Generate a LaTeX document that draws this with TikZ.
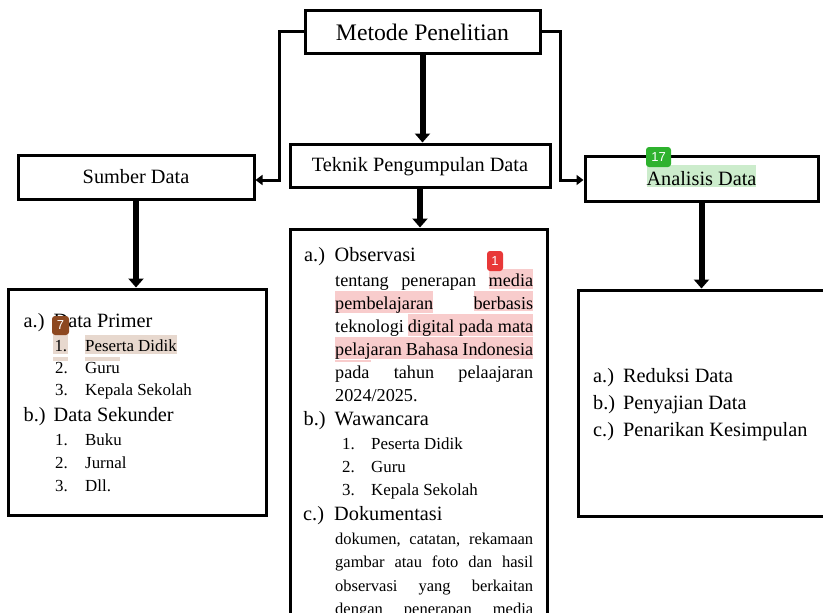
\documentclass[tikz,border=0pt]{standalone}
\usepackage{fontspec}
\setmainfont{Liberation Serif}
\newfontfamily\lencanafont{Liberation Sans}
\usepackage{xcolor}
\usepackage{tikz}
\usetikzlibrary{arrows.meta}
\usetikzlibrary{positioning}

\definecolor{krem}{RGB}{231,216,206}
\definecolor{merahmuda}{RGB}{248,204,204}
\definecolor{hijaumuda}{RGB}{204,236,204}
\definecolor{merahlencana}{RGB}{232,56,56}
\definecolor{coklatlencana}{RGB}{141,72,32}
\definecolor{hijaulencana}{RGB}{46,178,46}

\newcommand{\stabilo}[2]{{\setlength{\fboxsep}{0pt}\colorbox{#1}{\rule[-0.12em]{0pt}{1.1em}#2}}}

\begin{document}
\begin{tikzpicture}[x=1pt, y=-1pt]
\tikzstyle{kotak}=[
    draw,
    line width=3pt,
    inner sep=0pt,
    text depth=0pt,
    font=\fontsize{20.3}{24}\selectfont
]
\tikzstyle{judul}=[anchor=base west, inner sep=0pt, font=\fontsize{20.3}{24}\selectfont]
\tikzstyle{butir}=[anchor=base west, inner sep=0pt, font=\fontsize{16.9}{20}\selectfont]
\tikzstyle{paragrafobs}=[anchor=base west, inner sep=0pt, font=\fontsize{18.2}{21}\selectfont]
\tikzstyle{paragrafdok}=[anchor=base west, inner sep=0pt, font=\fontsize{16.5}{20}\selectfont]
\tikzstyle{panahtebal}=[line width=6pt, -{Triangle[width=15pt,length=9pt]}]
\tikzstyle{panahtipis}=[line width=3pt, -{Triangle[width=10pt,length=7pt]}]
\tikzstyle{lencana}=[
    rounded corners=3pt,
    inner sep=0pt,
    text=white,
    font=\lencanafont\fontsize{13}{13}\selectfont
]

\useasboundingbox (0,0) rectangle (823,613);
\clip (0,0) rectangle (823,613);

% Kotak utama
\node[kotak, minimum width=235pt, minimum height=43pt, text height=17pt,
      font=\fontsize{23.7}{28}\selectfont] (metode) at (422.5,31.5) {Metode Penelitian};
\node[kotak, minimum width=260pt, minimum height=43pt, text height=12.5pt] (teknik) at (420,165.5) {Teknik Pengumpulan Data};
\node[kotak, minimum width=236pt, minimum height=44pt, text height=12.6pt] (sumber) at (136,177) {Sumber Data};
\node[kotak, minimum width=233pt, minimum height=45pt, text height=13pt] (analisis) at (701.5,178.5) {\stabilo{hijaumuda}{Analisis Data}};

% Kotak isi
\node[kotak, minimum width=258pt, minimum height=226pt] (kotakkiri) at (137,402) {};
\node[kotak, minimum width=257pt, minimum height=431pt] (kotaktengah) at (418.5,444.5) {};
\node[kotak, minimum width=282pt, minimum height=226pt] (kotakkanan) at (719,403) {};

% Panah
\coordinate (belokkiri) at (279,0);
\coordinate (belokkanan) at (560,0);
\draw[panahtebal] (metode.south) -- (metode.south |- teknik.north);
\draw[panahtipis] (metode.west) -- (metode.west -| belokkiri) |- ([yshift=-3pt]sumber.east);
\draw[panahtipis] (metode.east) -- (metode.east -| belokkanan) |- ([yshift=-1.5pt]analisis.west);
\draw[panahtebal] (sumber.south) -- (sumber.south |- kotakkiri.north);
\draw[panahtebal] (teknik.south) -- (teknik.south |- kotaktengah.north);
\draw[panahtebal] (analisis.south) -- (analisis.south |- kotakkanan.north);

% Sumber data
\fill[krem] (53,357) rectangle (68,361);
\fill[krem] (85,357) rectangle (120,361);
\node[judul] (primer) at (23.5,327) {\makebox[30pt][l]{a.)}Data Primer};
\node[butir] (primer1) at (53,351.5) {\stabilo{krem}{\makebox[15pt][r]{1.\hspace{1pt}}}\hspace{17pt}\stabilo{krem}{Peserta Didik}};
\node[butir] (primer2) at (55,373) {\makebox[30pt][l]{2.}Guru};
\node[butir] (primer3) at (55,395.5) {\makebox[30pt][l]{3.}Kepala Sekolah};
\node[judul] (sekunder) at (23.5,421.5) {\makebox[30pt][l]{b.)}Data Sekunder};
\node[butir] (sekunder1) at (55,445.5) {\makebox[30pt][l]{1.}Buku};
\node[butir] (sekunder2) at (55,468) {\makebox[30pt][l]{2.}Jurnal};
\node[butir] (sekunder3) at (55,491) {\makebox[30pt][l]{3.}Dll.};

% Teknik pengumpulan data
\node[judul] (observasi) at (304,261) {\makebox[30.5pt][l]{a.)}Observasi};
\node[paragrafobs] (obs1) at (335,286.5) {\makebox[198pt][s]{tentang penerapan \stabilo{merahmuda}{media}}};
\node[paragrafobs] (obs2) at (335,309) {\makebox[198pt][s]{\stabilo{merahmuda}{pembelajaran} \stabilo{merahmuda}{berbasis}}};
\node[paragrafobs] (obs3) at (335,332) {\makebox[198pt][s]{teknologi \stabilo{merahmuda}{digital pada mata}}};
\node[paragrafobs] (obs4) at (335,355) {\stabilo{merahmuda}{\makebox[198pt][s]{pelajaran Bahasa Indonesia}}};
\draw[merahmuda, line width=1.5pt] (335,361) -- (371,361);
\node[paragrafobs] (obs5) at (335,378.5) {\makebox[198pt][s]{pada tahun pelaajaran}};
\node[paragrafobs] (obs6) at (335,401) {2024/2025.};
\node[judul] (wawancara) at (303.5,425) {\makebox[31pt][l]{b.)}Wawancara};
\node[butir] (wawancara1) at (342,449.5) {\makebox[29pt][l]{1.}Peserta Didik};
\node[butir] (wawancara2) at (342,472.5) {\makebox[29pt][l]{2.}Guru};
\node[butir] (wawancara3) at (342,495.5) {\makebox[29pt][l]{3.}Kepala Sekolah};
\node[judul] (dokumentasi) at (303,520) {\makebox[31pt][l]{c.)}Dokumentasi};
\node[paragrafdok] (dok1) at (335,544) {\makebox[198pt][s]{dokumen, catatan, rekamaan}};
\node[paragrafdok] (dok2) at (335,567.5) {\makebox[198pt][s]{gambar atau foto dan hasil}};
\node[paragrafdok] (dok3) at (335,591) {\makebox[198pt][s]{observasi yang berkaitan}};
\node[paragrafdok] (dok4) at (335,614.5) {\makebox[198pt][s]{dengan penerapan media}};

% Analisis data
\node[judul] (reduksi) at (593,382.5) {\makebox[30pt][l]{a.)}Reduksi Data};
\node[judul] (penyajian) at (593,409.5) {\makebox[30pt][l]{b.)}Penyajian Data};
\node[judul] (penarikan) at (593,436.5) {\makebox[30pt][l]{c.)}Penarikan Kesimpulan};

% Lencana komentar
\node[lencana, fill=merahlencana, minimum width=16pt, minimum height=20pt] (lencana1) at (495,261) {1};
\node[lencana, fill=coklatlencana, minimum width=17pt, minimum height=19pt] (lencana7) at (60.5,325.5) {7};
\node[lencana, fill=hijaulencana, minimum width=25pt, minimum height=20pt] (lencana17) at (658.5,157) {17};

\end{tikzpicture}
\end{document}
